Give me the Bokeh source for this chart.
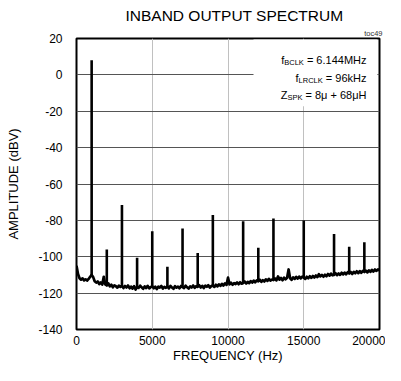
from bokeh.plotting import figure
from bokeh.models import Label, BoxAnnotation, FixedTicker, Title
from bokeh.embed import file_html
from bokeh.resources import INLINE

# ---------------- data ----------------
freq_step_hz = 100
noise_floor_dbv = [
    -105.0, -109.5, -111.8, -112.6, -111.9, -113.0, -112.4, -113.1, -112.2, -111.0,
    -110.0, -111.2, -113.5, -114.2, -113.6, -115.0, -114.1, -115.3, -111.0, -115.2,
    -115.8, -114.6, -116.3, -115.4, -116.8, -115.7, -116.2, -117.0, -115.9, -116.6,
    -116.0, -117.2, -116.1, -116.9, -115.8, -117.3, -116.4, -117.5, -116.2, -118.0,
    -116.5, -117.1, -115.9, -116.8, -117.6, -116.3, -117.2, -116.0, -117.4, -116.7,
    -116.2, -117.3, -116.5, -117.8, -116.4, -117.0, -116.1, -117.5, -116.6, -117.1,
    -116.3, -117.4, -116.0, -116.9, -117.6, -116.2, -117.0, -116.4, -117.3, -116.1,
    -116.7, -117.2, -115.9, -116.8, -117.5, -116.3, -116.9, -115.8, -117.1, -116.2,
    -116.6, -115.7, -116.9, -116.0, -117.2, -115.9, -116.5, -115.6, -117.0, -116.1,
    -115.8, -116.6, -115.4, -116.3, -115.2, -116.0, -114.9, -115.8, -114.6, -115.5,
    -111.5, -115.2, -114.3, -115.4, -114.5, -115.0, -114.1, -115.1, -114.0, -114.8,
    -114.4, -113.6, -114.7, -113.8, -114.5, -113.4, -114.2, -113.1, -114.0, -113.0,
    -113.5, -112.6, -113.8, -112.9, -113.6, -112.4, -113.3, -112.2, -113.1, -112.5,
    -112.8, -111.9, -113.0, -110.8, -112.6, -111.7, -112.9, -111.5, -112.4, -111.6,
    -107.0, -111.8, -112.7, -111.3, -112.2, -111.1, -112.0, -110.9, -111.9, -111.0,
    -111.5, -112.2, -111.0, -111.8, -110.7, -111.6, -110.6, -111.4, -110.3, -111.2,
    -109.6, -110.8, -110.0, -111.0, -109.9, -110.7, -109.5, -110.4, -109.3, -110.2,
    -110.0, -109.1, -110.1, -109.2, -110.0, -108.8, -109.7, -108.7, -109.6, -108.5,
    -109.2, -108.4, -109.5, -108.3, -109.1, -108.0, -109.0, -107.9, -108.8, -107.8,
    -108.4, -107.6, -108.6, -107.5, -108.3, -107.2, -108.1, -107.0, -107.8, -106.9,
    -107.5,
]
harmonic_freq_hz = [1000, 2000, 3000, 4000, 5000, 6000, 7000, 8000, 9000,
                    11000, 12000, 13000, 15000, 17000, 18000, 19000]
harmonic_level_dbv = [8.0, -96.0, -71.5, -100.5, -86.0, -105.5, -84.5, -98.0, -77.0,
                      -80.5, -95.0, -79.0, -80.0, -87.5, -94.5, -92.0]

x_ticks = [0, 5000, 10000, 15000, 20000]
x_tick_labels = ["0", "5000", "10000", "15000", "20000"]
y_ticks = [-140, -120, -100, -80, -60, -40, -20, 0, 20]
y_tick_labels = ["-140", "-120", "-100", "-80", "-60", "-40", "-20", "0", "20"]

title_text = "INBAND OUTPUT SPECTRUM"
x_title = "FREQUENCY (Hz)"
y_title = "AMPLITUDE (dBV)"
tag_text = "toc49"
note_lines = [("f", "BCLK", "= 6.144MHz"),
              ("f", "LRCLK", "= 96kHz"),
              ("Z", "SPK", "= 8\u03bc + 68\u03bcH")]

# ---------------- styling ----------------
FONT = "Liberation Sans"
AW = {" ": 278, "=": 584, ".": 278, "+": 584, "M": 833, "H": 722, "z": 500, "k": 500,
      "\u03bc": 576, "f": 278, "Z": 611, "B": 667, "C": 722, "L": 556, "K": 667,
      "R": 722, "S": 667, "P": 667}


def text_w(s, size):
    return sum(AW.get(ch, 556) for ch in s) / 1000.0 * size


noise_freq = [i * freq_step_hz for i in range(len(noise_floor_dbv))]
harm_base = [noise_floor_dbv[f // freq_step_hz] for f in harmonic_freq_hz]

p = figure(width=385, height=365, x_range=(0, 20000), y_range=(-140, 20),
           output_backend="svg", toolbar_location=None,
           min_border_left=76, min_border_right=6, min_border_top=38, min_border_bottom=35)
p.background_fill_color = "white"
p.border_fill_color = "white"
p.outline_line_color = "black"
p.outline_line_width = 2

for ax in (p.xaxis, p.yaxis):
    ax.axis_line_color = None
    ax.major_tick_out = 0
    ax.major_tick_in = 0
    ax.minor_tick_out = 0
    ax.minor_tick_in = 0
    ax.major_label_text_font = FONT
    ax.major_label_text_font_size = "12px"
    ax.major_label_text_color = "black"
    ax.axis_label_text_font = FONT
    ax.axis_label_text_font_size = "13px"
    ax.axis_label_text_font_style = "normal"
    ax.axis_label_text_color = "black"

p.xaxis.ticker = FixedTicker(ticks=x_ticks)
p.yaxis.ticker = FixedTicker(ticks=y_ticks)
p.xaxis.major_label_overrides = {t: l for t, l in zip(x_ticks, x_tick_labels)}
p.yaxis.major_label_overrides = {t: l for t, l in zip(y_ticks, y_tick_labels)}
p.xaxis.axis_label = x_title
p.yaxis.axis_label = y_title
p.xaxis.major_label_standoff = 6
p.xaxis.axis_label_standoff = 0
p.yaxis.major_label_standoff = 14
p.yaxis.axis_label_standoff = 14

p.xgrid.grid_line_color = "#c0c0c0"
p.xgrid.grid_line_width = 1
p.ygrid.grid_line_color = "#555555"
p.ygrid.grid_line_width = 1

# trace
p.line(noise_freq, noise_floor_dbv, line_color="black", line_width=2.7, line_join="round")
p.segment(x0=harmonic_freq_hz, y0=harm_base, x1=harmonic_freq_hz, y1=harmonic_level_dbv,
          line_color="black", line_width=2.6)

# white box behind the note
p.add_layout(BoxAnnotation(left=11683, right=19860, top=19.4, bottom=-17.3,
                           fill_color="white", fill_alpha=1.0, line_color=None))

# titles (first added sits nearest the frame)
p.add_layout(Title(text=tag_text, align="right", text_font=FONT, text_font_size="7.5px",
                   text_font_style="normal", text_color="#333333", standoff=1, offset=-3), "above")
p.add_layout(Title(text=title_text, align="left", text_font=FONT, text_font_size="15.5px",
                   text_font_style="normal", text_color="black", standoff=5, offset=49), "above")

# note with subscripts
x_right = 19142
base_y = [8.3, -1.5, -11.2]
MAIN, SUB = 11, 7.5
GAP = text_w(" ", MAIN)
for (pre, sub, main), yb in zip(note_lines, base_y):
    wm = text_w(main, MAIN) + GAP
    ws = text_w(sub, SUB)
    p.add_layout(Label(x=x_right, y=yb, text=main, text_align="right",
                       text_baseline="alphabetic", text_font=FONT,
                       text_font_size=f"{MAIN}px", text_color="black"))
    p.add_layout(Label(x=x_right, y=yb - 1.5, x_offset=-wm, text=sub, text_align="right",
                       text_baseline="alphabetic", text_font=FONT,
                       text_font_size=f"{SUB}px", text_color="black"))
    p.add_layout(Label(x=x_right, y=yb, x_offset=-(wm + ws), text=pre, text_align="right",
                       text_baseline="alphabetic", text_font=FONT,
                       text_font_size=f"{MAIN}px", text_color="black"))

open("out.html", "w").write(file_html(p, INLINE))
